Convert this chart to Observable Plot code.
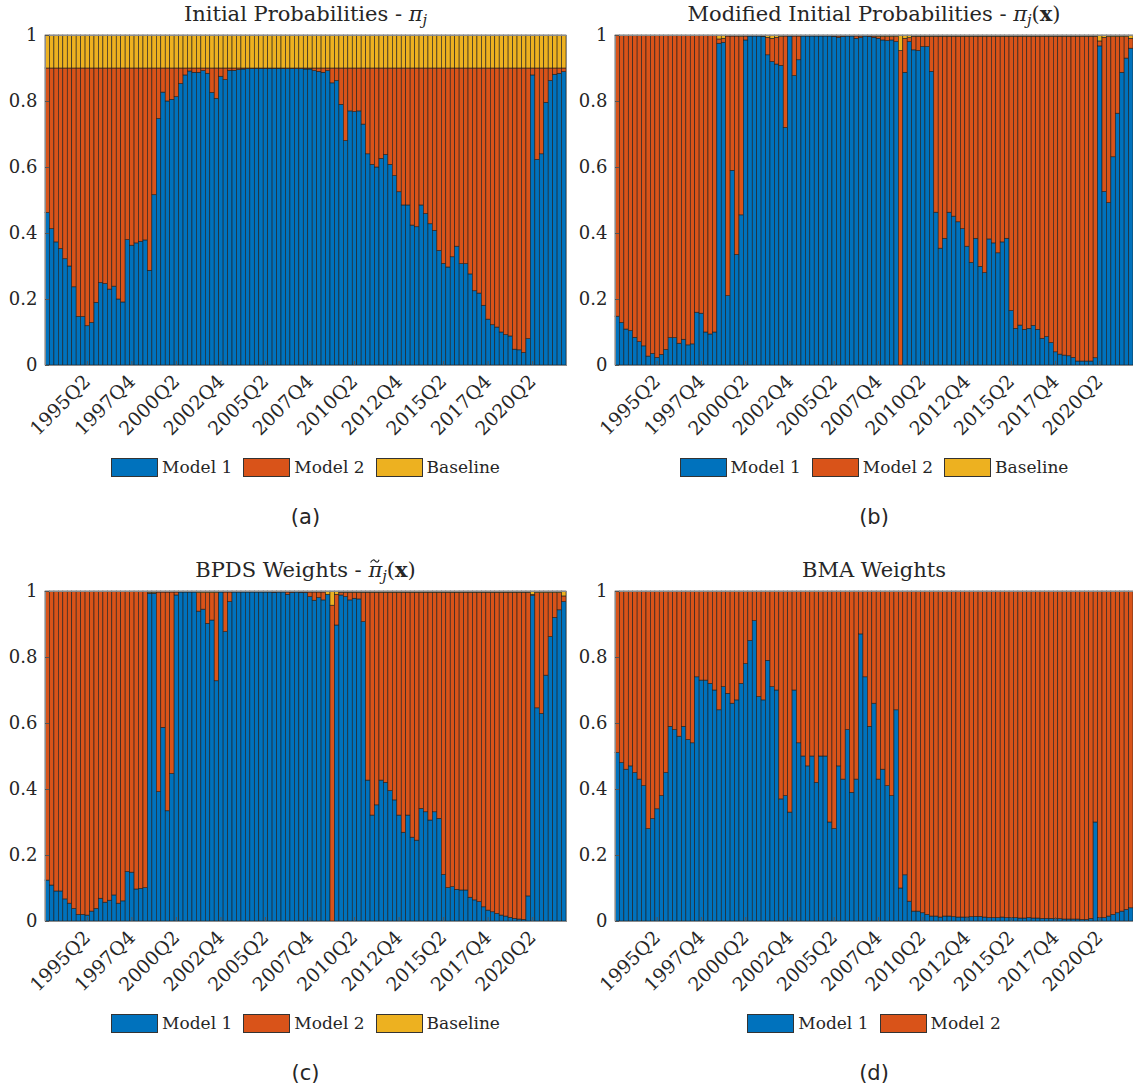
<!DOCTYPE html>
<html><head><meta charset="utf-8">
<script src="https://cdn.jsdelivr.net/npm/d3@7"></script>
<script src="https://cdn.jsdelivr.net/npm/@observablehq/plot@0.6"></script>
<style>
body{margin:0;background:#fff;}
#root{position:relative;width:1133px;height:1087px;overflow:hidden;font-family:'DejaVu Serif',serif;color:#262626;}
.title{position:absolute;text-align:center;font-size:21px;white-space:nowrap;line-height:28px;}
.legend{position:absolute;display:flex;justify-content:center;align-items:center;font-size:17px;height:22px;}
.item{display:flex;align-items:center;}
.sw{width:47px;height:19px;border:1px solid #333;margin-right:4px;box-sizing:border-box;}
.lab{position:absolute;text-align:center;font-family:'DejaVu Sans',sans-serif;font-size:21px;line-height:24px;}
.pw{position:absolute;}
.pw svg text{font-family:'DejaVu Serif',serif;}
sub{font-size:0.7em;vertical-align:-0.25em;}
.tl{position:relative;display:inline-block;}
.tsvg{position:absolute;left:0.1em;top:0.16em;width:0.46em;height:0.2em;overflow:visible;}
</style></head><body><div id="root"></div>
<script>
// ---- categories ----
const quarters = [];
for (let i = 0; i < 117; i++) { const t = 1993 * 4 + 1 + i; quarters.push(`${Math.floor(t / 4)}Q${t % 4 + 1}`); }
const tickLabels = ["1995Q2","1997Q4","2000Q2","2002Q4","2005Q2","2007Q4","2010Q2","2012Q4","2015Q2","2017Q4","2020Q2"];
const yTicks = [0, 0.2, 0.4, 0.6, 0.8, 1];
const seriesThree = ["Model 1", "Model 2", "Baseline"];
const seriesTwo = ["Model 1", "Model 2"];
const seriesColors = ["#0072BD", "#D95319", "#EDB120"];

// ---- (a) Initial probabilities: top of Model 1, top of Model 2 ----
const aModel1 = [
0.462,0.413,0.373,0.353,0.322,0.300,0.237,0.147,0.147,0.119,
0.129,0.190,0.250,0.247,0.230,0.239,0.200,0.191,0.380,0.363,
0.370,0.375,0.379,0.287,0.516,0.747,0.827,0.800,0.805,0.813,
0.853,0.879,0.891,0.887,0.887,0.892,0.884,0.826,0.808,0.875,
0.865,0.893,0.893,0.895,0.897,0.898,0.899,0.899,0.899,0.899,
0.899,0.899,0.899,0.899,0.898,0.899,0.898,0.898,0.897,0.897,
0.892,0.890,0.887,0.892,0.855,0.862,0.790,0.680,0.770,0.768,
0.770,0.730,0.640,0.608,0.600,0.626,0.638,0.608,0.574,0.525,
0.485,0.485,0.424,0.419,0.485,0.459,0.428,0.408,0.347,0.308,
0.297,0.328,0.360,0.307,0.307,0.276,0.225,0.218,0.181,0.139,
0.122,0.115,0.100,0.092,0.088,0.048,0.046,0.038,0.080,0.879,
0.623,0.640,0.796,0.862,0.881,0.884,0.889];
const aModel2Top = [
0.9,0.9,0.9,0.9,0.9,0.9,0.9,0.9,0.9,0.9,
0.9,0.9,0.9,0.9,0.9,0.9,0.9,0.9,0.9,0.9,
0.9,0.9,0.9,0.9,0.9,0.9,0.9,0.9,0.9,0.9,
0.9,0.9,0.9,0.9,0.9,0.9,0.9,0.9,0.9,0.9,
0.9,0.9,0.9,0.9,0.9,0.9,0.9,0.9,0.9,0.9,
0.9,0.9,0.9,0.9,0.9,0.9,0.9,0.9,0.9,0.9,
0.9,0.9,0.9,0.9,0.9,0.9,0.9,0.9,0.9,0.9,
0.9,0.9,0.9,0.9,0.9,0.9,0.9,0.9,0.9,0.9,
0.9,0.9,0.9,0.9,0.9,0.9,0.9,0.9,0.9,0.9,
0.9,0.9,0.9,0.9,0.9,0.9,0.9,0.9,0.9,0.9,
0.9,0.9,0.9,0.9,0.9,0.9,0.9,0.9,0.9,0.9,
0.9,0.9,0.9,0.9,0.9,0.9,0.9];

// ---- (b) Modified initial probabilities ----
const bModel1 = [
0.148,0.129,0.109,0.104,0.084,0.071,0.058,0.027,0.035,0.023,
0.032,0.047,0.083,0.083,0.066,0.078,0.061,0.064,0.160,0.157,
0.100,0.094,0.100,0.975,0.978,0.210,0.590,0.335,0.455,0.985,
0.997,0.997,0.997,0.996,0.940,0.920,0.912,0.908,0.720,0.997,
0.877,0.925,0.997,0.997,0.998,0.998,0.998,0.997,0.997,0.996,
0.993,0.995,0.997,0.997,0.990,0.992,0.997,0.995,0.993,0.990,
0.985,0.983,0.985,0.980,0.000,0.887,0.980,0.955,0.953,0.965,
0.965,0.890,0.463,0.354,0.384,0.463,0.451,0.434,0.413,0.360,
0.311,0.384,0.299,0.280,0.382,0.370,0.340,0.373,0.384,0.165,
0.111,0.121,0.108,0.111,0.120,0.108,0.081,0.086,0.068,0.040,
0.033,0.030,0.028,0.023,0.012,0.012,0.012,0.012,0.022,0.967,
0.526,0.492,0.631,0.763,0.887,0.930,0.960];
const bModel2Top = [
0.998,0.998,0.998,0.998,0.998,0.998,0.998,0.998,0.998,0.998,
0.998,0.998,0.998,0.998,0.998,0.998,0.998,0.998,0.998,0.998,
0.998,0.998,0.998,0.988,0.990,0.997,0.997,0.997,0.995,0.997,
0.997,0.997,0.997,0.997,0.993,0.990,0.993,0.995,0.997,0.997,
0.997,0.997,0.997,0.997,0.997,0.997,0.997,0.997,0.997,0.997,
0.997,0.997,0.997,0.997,0.997,0.997,0.997,0.997,0.997,0.995,
0.995,0.995,0.995,0.995,0.953,0.990,0.992,0.996,0.996,0.996,
0.996,0.996,0.996,0.996,0.996,0.996,0.996,0.996,0.996,0.996,
0.996,0.996,0.996,0.996,0.996,0.996,0.996,0.996,0.996,0.996,
0.996,0.996,0.996,0.996,0.996,0.996,0.996,0.996,0.996,0.996,
0.996,0.996,0.996,0.996,0.996,0.996,0.996,0.996,0.996,0.982,
0.993,0.995,0.995,0.995,0.995,0.995,0.990];

// ---- (c) BPDS weights ----
const cModel1 = [
0.124,0.109,0.091,0.091,0.067,0.054,0.038,0.020,0.020,0.018,
0.030,0.038,0.069,0.057,0.063,0.079,0.054,0.061,0.150,0.148,
0.097,0.099,0.101,0.993,0.993,0.392,0.587,0.334,0.447,0.988,
0.997,0.997,0.997,0.997,0.939,0.945,0.902,0.912,0.728,0.998,
0.877,0.968,0.997,0.997,0.997,0.997,0.997,0.997,0.997,0.997,
0.997,0.996,0.997,0.997,0.990,0.995,0.997,0.996,0.995,0.983,
0.972,0.980,0.973,0.990,0.000,0.897,0.988,0.983,0.973,0.978,
0.976,0.907,0.427,0.321,0.352,0.427,0.420,0.395,0.367,0.321,
0.269,0.321,0.254,0.245,0.341,0.331,0.306,0.331,0.311,0.141,
0.101,0.104,0.096,0.094,0.094,0.072,0.064,0.059,0.043,0.033,
0.028,0.023,0.018,0.015,0.011,0.008,0.006,0.005,0.076,0.986,
0.646,0.629,0.745,0.862,0.920,0.943,0.968];
const cModel2Top = [
0.998,0.998,0.998,0.998,0.998,0.998,0.998,0.998,0.998,0.998,
0.998,0.998,0.998,0.998,0.998,0.998,0.998,0.998,0.998,0.998,
0.998,0.998,0.998,0.995,0.995,0.997,0.997,0.997,0.997,0.997,
0.997,0.997,0.997,0.997,0.995,0.995,0.995,0.995,0.995,0.997,
0.997,0.997,0.997,0.997,0.997,0.997,0.997,0.997,0.997,0.997,
0.997,0.997,0.997,0.997,0.997,0.997,0.997,0.997,0.997,0.997,
0.997,0.997,0.997,0.990,0.957,0.990,0.996,0.996,0.996,0.996,
0.996,0.996,0.996,0.996,0.996,0.996,0.996,0.996,0.996,0.996,
0.996,0.996,0.996,0.996,0.996,0.996,0.996,0.996,0.996,0.996,
0.996,0.996,0.996,0.996,0.996,0.996,0.996,0.996,0.996,0.996,
0.996,0.996,0.996,0.996,0.996,0.996,0.996,0.996,0.996,0.990,
0.995,0.995,0.995,0.995,0.995,0.995,0.985];

// ---- (d) BMA weights (Model 2 fills up to 1) ----
const dModel1 = [
0.51,0.48,0.46,0.47,0.45,0.43,0.41,0.28,0.31,0.34,
0.38,0.45,0.59,0.58,0.56,0.59,0.55,0.54,0.74,0.73,
0.73,0.72,0.70,0.64,0.71,0.69,0.66,0.67,0.72,0.78,
0.85,0.91,0.68,0.67,0.79,0.71,0.70,0.37,0.38,0.33,
0.70,0.54,0.50,0.47,0.50,0.42,0.50,0.50,0.30,0.28,
0.47,0.43,0.58,0.39,0.43,0.87,0.74,0.59,0.66,0.43,
0.46,0.41,0.38,0.64,0.10,0.14,0.06,0.03,0.03,0.025,
0.020,0.015,0.015,0.012,0.015,0.015,0.013,0.012,0.012,0.012,
0.013,0.014,0.014,0.012,0.010,0.010,0.010,0.012,0.010,0.010,
0.010,0.009,0.009,0.010,0.009,0.009,0.008,0.008,0.008,0.007,
0.007,0.006,0.006,0.006,0.006,0.005,0.005,0.008,0.300,0.010,
0.010,0.015,0.020,0.025,0.030,0.035,0.040];

const root = document.getElementById("root");
const font = "'DejaVu Serif', serif";

function addPanel({title, tag, series, model1, model2Top, left, top, width, marginLeft, marginRight}) {
  const rows = [];
  quarters.forEach((q, i) => {
    rows.push({q, s: series[0], y1: 0, y2: model1[i]});
    rows.push({q, s: series[1], y1: model1[i], y2: model2Top ? model2Top[i] : 1});
    if (series[2]) rows.push({q, s: series[2], y1: model2Top[i], y2: 1});
  });
  const plotLeft = left + marginLeft;
  const plotW = width - marginLeft - marginRight;
  const chart = Plot.plot({
    width, height: 425, marginTop: 10, marginBottom: 85, marginLeft, marginRight,
    style: {fontFamily: font, fontSize: "18px", color: "#262626", background: "transparent", overflow: "visible"},
    x: {type: "band", domain: quarters, padding: 0, label: null},
    y: {domain: [0, 1], label: null},
    color: {domain: series, range: seriesColors.slice(0, series.length)},
    marks: [
      Plot.barY(rows, {x: "q", y1: "y1", y2: "y2", fill: "s", stroke: "#1e1e1e", strokeWidth: 0.6, inset: 0}),
      Plot.frame({stroke: "#8c8c8c", strokeWidth: 1}),
      Plot.axisY({ticks: yTicks, tickFormat: d => String(d), tickSize: -4, tickPadding: 12, stroke: "#555", fontFamily: font, fontSize: 18}),
      Plot.axisX({ticks: tickLabels, tickRotate: -45, tickSize: -4, tickPadding: 17, dx: 4, stroke: "#555", fontFamily: font, fontSize: 19})
    ]
  });
  const wrap = document.createElement("div");
  wrap.className = "pw";
  wrap.style.left = left + "px"; wrap.style.top = top + "px";
  wrap.appendChild(chart);
  root.appendChild(wrap);

  const t = document.createElement("div");
  t.className = "title";
  t.innerHTML = title;
  t.style.left = plotLeft + "px"; t.style.width = plotW + "px"; t.style.top = (top - 25) + "px";
  root.appendChild(t);

  const lg = document.createElement("div");
  lg.className = "legend";
  lg.style.left = plotLeft + "px"; lg.style.width = plotW + "px"; lg.style.top = (top + 431) + "px";
  series.forEach((s, i) => {
    const it = document.createElement("div"); it.className = "item";
    const sw = document.createElement("div"); sw.className = "sw"; sw.style.background = seriesColors[i];
    const tx = document.createElement("span"); tx.textContent = s;
    it.appendChild(sw); it.appendChild(tx); lg.appendChild(it);
    if (i < series.length - 1) it.style.marginRight = "11px";
  });
  root.appendChild(lg);

  const lb = document.createElement("div");
  lb.className = "lab";
  lb.textContent = tag;
  lb.style.left = plotLeft + "px"; lb.style.width = plotW + "px"; lb.style.top = (top + 480) + "px";
  root.appendChild(lb);
}

const tildePi = '<span class="tl"><i>π</i><svg class="tsvg" viewBox="0 0 10 4" preserveAspectRatio="none"><path d="M0.6 3.3 C2.2 0.3 4.2 0.4 5.3 1.8 S8.3 3.9 9.4 0.7" fill="none" stroke="#262626" stroke-width="1.1" vector-effect="non-scaling-stroke"/></svg></span>';

addPanel({title: "Initial Probabilities - <i>π</i><sub><i>j</i></sub>", tag: "(a)", series: seriesThree,
  model1: aModel1, model2Top: aModel2Top, left: 0, top: 25, width: 570, marginLeft: 45, marginRight: 4});
addPanel({title: "Modified Initial Probabilities - <i>π</i><sub><i>j</i></sub>(<b>x</b>)", tag: "(b)", series: seriesThree,
  model1: bModel1, model2Top: bModel2Top, left: 570, top: 25, width: 563, marginLeft: 45, marginRight: 0});
addPanel({title: "BPDS Weights - " + tildePi + "<sub><i>j</i></sub>(<b>x</b>)", tag: "(c)", series: seriesThree,
  model1: cModel1, model2Top: cModel2Top, left: 0, top: 581, width: 570, marginLeft: 45, marginRight: 4});
addPanel({title: "BMA Weights", tag: "(d)", series: seriesTwo,
  model1: dModel1, model2Top: null, left: 570, top: 581, width: 563, marginLeft: 45, marginRight: 0});
</script></body></html>
